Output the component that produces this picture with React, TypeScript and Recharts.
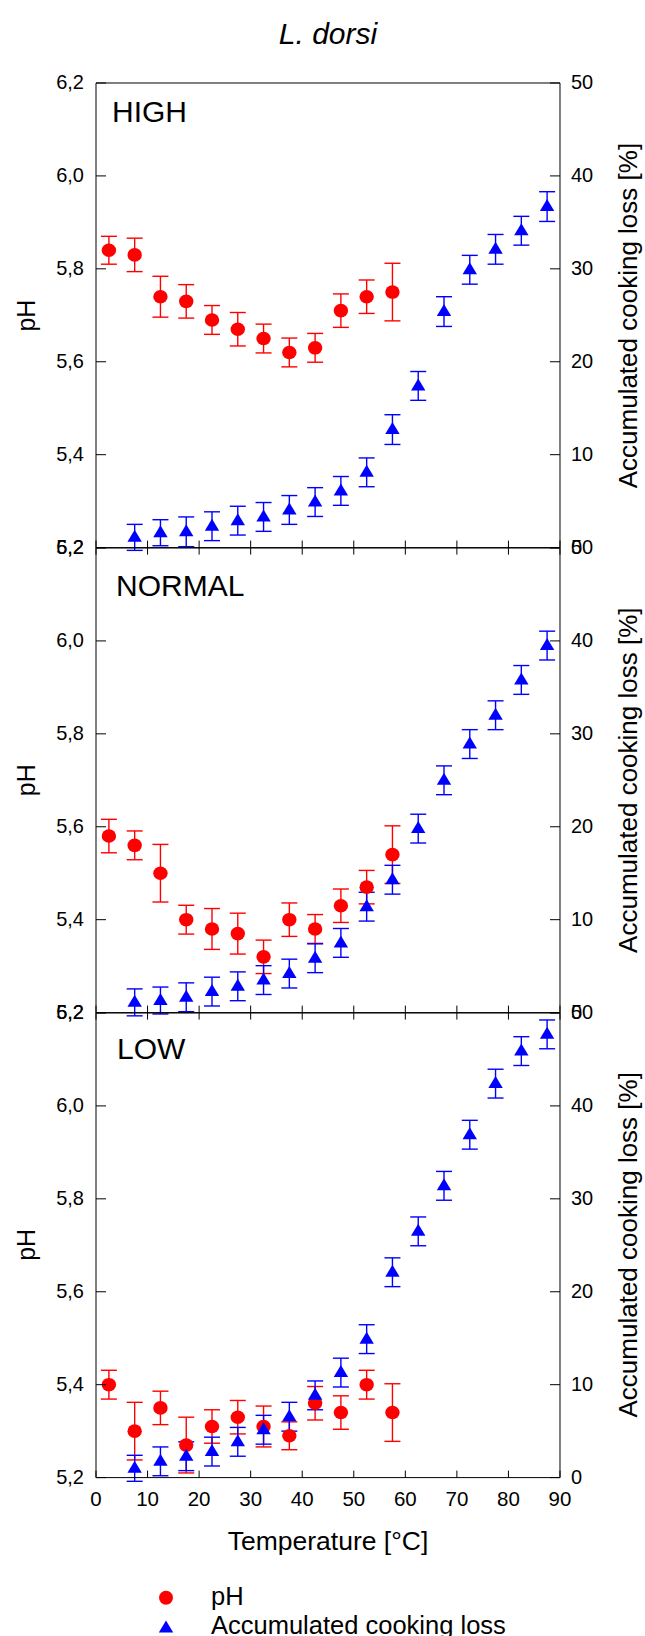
import {
  ErrorBar,
  ReferenceLine,
  Scatter,
  ScatterChart,
  XAxis,
  YAxis,
} from "recharts";

// temperatures of the two series
const phTemps = [2.5, 7.5, 12.5, 17.5, 22.5, 27.5, 32.5, 37.5, 42.5, 47.5, 52.5, 57.5];
const lossTemps = [
  7.5, 12.5, 17.5, 22.5, 27.5, 32.5, 37.5, 42.5, 47.5, 52.5, 57.5, 62.5, 67.5, 72.5, 77.5, 82.5, 87.5,
];

// HIGH
const phHigh = [5.84, 5.83, 5.74, 5.73, 5.69, 5.67, 5.65, 5.62, 5.63, 5.71, 5.74, 5.75];
const phHighErr = [0.03, 0.036, 0.044, 0.036, 0.031, 0.036, 0.031, 0.031, 0.031, 0.036, 0.036, 0.062];
const lossHigh = [1.1, 1.6, 1.7, 2.3, 2.9, 3.3, 4.05, 4.9, 6.1, 8.1, 12.7, 17.4, 25.4, 29.9, 32.1, 34.1, 36.7];
const lossHighErr = [1.4, 1.4, 1.6, 1.55, 1.55, 1.55, 1.55, 1.55, 1.55, 1.55, 1.6, 1.55, 1.6, 1.55, 1.6, 1.55, 1.6];

// NORMAL
const phNormal = [5.58, 5.56, 5.5, 5.4, 5.38, 5.37, 5.32, 5.4, 5.38, 5.43, 5.47, 5.54];
const phNormalErr = [0.036, 0.031, 0.062, 0.031, 0.044, 0.044, 0.036, 0.036, 0.031, 0.036, 0.036, 0.062];
const lossNormal = [1.1, 1.3, 1.65, 2.26, 2.83, 3.5, 4.2, 5.85, 7.5, 11.4, 14.3, 19.8, 25.0, 28.9, 32.0, 35.8, 39.5];
const lossNormalErr = [1.45, 1.45, 1.55, 1.55, 1.55, 1.55, 1.55, 1.55, 1.55, 1.55, 1.55, 1.55, 1.55, 1.55, 1.55, 1.55, 1.55];

// LOW
const phLow = [5.4, 5.3, 5.35, 5.27, 5.31, 5.33, 5.31, 5.29, 5.36, 5.34, 5.4, 5.34];
const phLowErr = [0.031, 0.062, 0.036, 0.06, 0.036, 0.036, 0.044, 0.03, 0.036, 0.036, 0.031, 0.062];
const lossLow = [1.0, 1.75, 2.3, 2.8, 3.85, 5.15, 6.55, 8.85, 11.3, 14.9, 22.1, 26.5, 31.4, 36.9, 42.4, 45.9, 47.7];
const lossLowErr = [1.4, 1.55, 1.55, 1.55, 1.55, 1.55, 1.55, 1.55, 1.55, 1.55, 1.55, 1.55, 1.55, 1.55, 1.55, 1.55, 1.55];

const xTicks = [0, 10, 20, 30, 40, 50, 60, 70, 80, 90];
const phTicks = [5.2, 5.4, 5.6, 5.8, 6.0, 6.2];
const lossTicks = [0, 10, 20, 30, 40, 50];

const FONT = "'Liberation Sans', Arial, Helvetica, sans-serif";
const RED = "#ff0000";
const BLUE = "#0000ff";

const PLOT_L = 96;
const PLOT_R = 560;
const PLOT_H = 464.6;
const TOP_M = 20;
const X_H = 30;
const BOT_M = 20;
const Y_W = 60;

const rows = (t: number[], v: number[], e: number[]) => t.map((x, i) => ({ t: x, v: v[i], e: e[i] }));

function Dot(props: any) {
  const { cx, cy } = props;
  if (cx == null || cy == null) return null;
  return <ellipse cx={cx} cy={cy} rx={7.2} ry={6.8} fill={RED} />;
}

function Tri(props: any) {
  const { cx, cy } = props;
  if (cx == null || cy == null) return null;
  return (
    <polygon
      points={`${cx},${cy - 7.5} ${cx + 7.2},${cy + 4.5} ${cx - 7.2},${cy + 4.5}`}
      fill={BLUE}
    />
  );
}

function LeftTick({ x, y, payload }: any) {
  return (
    <g>
      <line x1={x} x2={x + 10} y1={y} y2={y} stroke="#000" />
      <text x={x - 12} y={y + 6.5} textAnchor="end" fontSize={20} fontFamily={FONT} fill="#000">
        {Number(payload.value).toFixed(1).replace(".", ",")}
      </text>
    </g>
  );
}

function RightTick({ x, y, payload }: any) {
  return (
    <g>
      <line x1={x - 10} x2={x} y1={y} y2={y} stroke="#000" />
      <text x={x + 11} y={y + 6.5} textAnchor="start" fontSize={20} fontFamily={FONT} fill="#000">
        {payload.value}
      </text>
    </g>
  );
}

function makeBottomTick(cross: boolean, labels: boolean) {
  return function BottomTick({ x, y, payload }: any) {
    return (
      <g>
        <line x1={x} x2={x} y1={y - 7} y2={cross ? y + 7 : y} stroke="#000" />
        {labels ? (
          <text x={x} y={y + 28} textAnchor="middle" fontSize={20.5} fontFamily={FONT} fill="#000">
            {payload.value}
          </text>
        ) : null}
      </g>
    );
  };
}

function Panel({
  top,
  ph,
  loss,
  cross,
  labels,
}: {
  top: number;
  ph: { t: number; v: number; e: number }[];
  loss: { t: number; v: number; e: number }[];
  cross: boolean;
  labels: boolean;
}) {
  const height = TOP_M + PLOT_H + X_H + BOT_M;
  const Tick = makeBottomTick(cross, labels);
  return (
    <div style={{ position: "absolute", left: 0, top: top - TOP_M, width: 645, height }}>
      <ScatterChart
        width={645}
        height={height}
        margin={{ top: TOP_M, bottom: BOT_M, left: PLOT_L - Y_W, right: 645 - PLOT_R - Y_W }}
        style={{ overflow: "visible" }}
      >
        <XAxis
          type="number"
          dataKey="t"
          domain={[0, 90]}
          ticks={xTicks}
          interval={0}
          allowDataOverflow
          height={X_H}
          tickSize={0}
          tickMargin={0}
          tickLine={false}
          axisLine={{ stroke: "#000", strokeWidth: 1 }}
          tick={<Tick />}
        />
        <YAxis
          yAxisId="ph"
          type="number"
          dataKey="v"
          domain={[5.2, 6.2]}
          ticks={phTicks}
          interval={0}
          allowDataOverflow
          width={Y_W}
          tickSize={0}
          tickMargin={0}
          tickLine={false}
          axisLine={{ stroke: "#000", strokeWidth: 1 }}
          tick={<LeftTick />}
        />
        <YAxis
          yAxisId="loss"
          orientation="right"
          type="number"
          dataKey="v"
          domain={[0, 50]}
          ticks={lossTicks}
          interval={0}
          allowDataOverflow
          width={Y_W}
          tickSize={0}
          tickMargin={0}
          tickLine={false}
          axisLine={{ stroke: "#000", strokeWidth: 1 }}
          tick={<RightTick />}
        />
        <ReferenceLine yAxisId="ph" y={6.2} stroke="#000" strokeWidth={1} ifOverflow="visible" />
        <Scatter yAxisId="ph" data={ph} shape={<Dot />} isAnimationActive={false}>
          <ErrorBar dataKey="e" direction="y" width={8} stroke={RED} strokeWidth={1.4} />
        </Scatter>
        <Scatter yAxisId="loss" data={loss} shape={<Tri />} isAnimationActive={false}>
          <ErrorBar dataKey="e" direction="y" width={8} stroke={BLUE} strokeWidth={1.4} />
        </Scatter>
      </ScatterChart>
    </div>
  );
}

const TOPS = [83.3, 547.9, 1012.5];
const PANEL_NAMES = ["HIGH", "NORMAL", "LOW"];
const NAME_POS = [
  [112, 122],
  [116, 596],
  [117, 1059],
];

export default function App() {
  const panels = [
    { ph: rows(phTemps, phHigh, phHighErr), loss: rows(lossTemps, lossHigh, lossHighErr) },
    { ph: rows(phTemps, phNormal, phNormalErr), loss: rows(lossTemps, lossNormal, lossNormalErr) },
    { ph: rows(phTemps, phLow, phLowErr), loss: rows(lossTemps, lossLow, lossLowErr) },
  ];
  return (
    <div
      style={{
        position: "absolute",
        left: 0,
        top: 0,
        width: 645,
        height: 1636,
        background: "#fff",
        overflow: "hidden",
      }}
    >
      {panels.map((p, i) => (
        <Panel key={i} top={TOPS[i]} ph={p.ph} loss={p.loss} cross={i < 2} labels={i === 2} />
      ))}
      <svg
        width={645}
        height={1636}
        style={{ position: "absolute", left: 0, top: 0, pointerEvents: "none" }}
        fontFamily={FONT}
      >
        <text x={328} y={44} textAnchor="middle" fontSize={30} fontStyle="italic">
          L. dorsi
        </text>
        {TOPS.map((t, i) => (
          <g key={i}>
            <text x={NAME_POS[i][0]} y={NAME_POS[i][1]} fontSize={30}>
              {PANEL_NAMES[i]}
            </text>
            <text
              transform={`translate(35, ${t + PLOT_H / 2}) rotate(-90)`}
              textAnchor="middle"
              fontSize={25}
            >
              pH
            </text>
            <text
              transform={`translate(637, ${t + PLOT_H / 2}) rotate(-90)`}
              textAnchor="middle"
              fontSize={26}
            >
              Accumulated cooking loss [%]
            </text>
          </g>
        ))}
        <text x={328} y={1550} textAnchor="middle" fontSize={26.5}>
          Temperature [°C]
        </text>
        <circle cx={166} cy={1597.7} r={7} fill={RED} />
        <text x={211} y={1605} fontSize={25.5}>
          pH
        </text>
        <polygon points="166,1620.5 173.2,1632.5 158.8,1632.5" fill={BLUE} />
        <text x={211} y={1634} fontSize={25.5}>
          Accumulated cooking loss
        </text>
      </svg>
    </div>
  );
}
